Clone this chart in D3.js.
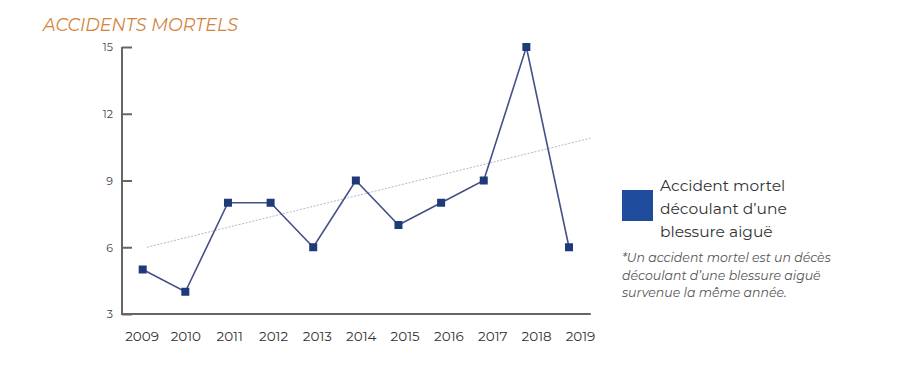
<!DOCTYPE html>
<html><head><meta charset="utf-8">
<script src="https://cdn.jsdelivr.net/npm/d3@7"></script>
<style>
html,body{margin:0;padding:0;background:#fff;}
svg{display:block;}
</style></head>
<body>
<svg id="c" width="918" height="369"></svg>
<script>
const years = [2009, 2010, 2011, 2012, 2013, 2014, 2015, 2016, 2017, 2018, 2019];
const accidents = [5, 4, 8, 8, 6, 9, 7, 8, 9, 15, 6];
const trendYears = [2009.1, 2019.5];
const trendValues = [6.0, 10.9];
const yTicks = [3, 6, 9, 12, 15];
const titleText = "ACCIDENTS MORTELS";
const legendLines = ["Accident mortel", "découlant d\u2019une", "blessure aiguë"];
const noteLines = ["*Un accident mortel est un décès", "découlant d\u2019une blessure aiguë", "survenue la même année."];

const svg = d3.select("#c");
const font = "Montserrat, 'Open Sans', 'DejaVu Sans', sans-serif";

const x = d3.scaleLinear().domain([2009, 2019]).range([142.7, 569]);
const xLab = d3.scaleLinear().domain([2009, 2019]).range([141.5, 580]);
const y = d3.scaleLinear().domain([3, 15]).range([314, 47]);

// title
svg.append("text").attr("x", 43).attr("y", 31)
  .attr("font-family", font).attr("font-style", "italic")
  .attr("font-size", 18.5).attr("fill", "#D4843A")
  .attr("textLength", 195).attr("lengthAdjust", "spacingAndGlyphs")
  .text(titleText);

// y axis
const yAxis = d3.axisRight(y).tickValues(yTicks).tickSize(10).tickFormat(d3.format("d"));
const gy = svg.append("g").attr("transform", "translate(122,0)").call(yAxis);
gy.select(".domain").attr("stroke", "#666").attr("stroke-width", 2).attr("d", `M0,${y(15)}V${y(3)}`);
gy.selectAll(".tick line").attr("stroke", "#666").attr("stroke-width", 2);
gy.selectAll(".tick text").attr("x", -9).attr("text-anchor", "end")
  .attr("font-family", font).attr("font-size", 11).attr("fill", "#444").attr("dy", "0.35em");

// x axis baseline
svg.append("line").attr("x1", 121).attr("x2", x(2019.5) + 0.5)
  .attr("y1", y(3)).attr("y2", y(3)).attr("stroke", "#666").attr("stroke-width", 2);

const xAxis = d3.axisBottom(xLab).tickValues(years).tickSize(0).tickFormat(d3.format("d"));
const gx = svg.append("g").attr("transform", `translate(0,${y(3) + 12})`).call(xAxis);
gx.select(".domain").remove();
gx.selectAll(".tick text").attr("font-family", font).attr("font-size", 13.5).attr("fill", "#333").attr("dy", "0.9em");

// trend line
svg.append("line")
  .attr("x1", x(trendYears[0])).attr("y1", y(trendValues[0]))
  .attr("x2", x(trendYears[1])).attr("y2", y(trendValues[1]))
  .attr("stroke", "#b5b8c4").attr("stroke-width", 1).attr("stroke-dasharray", "2,1.5");

// data line
const line = d3.line().x((d, i) => x(years[i])).y(d => y(d));
svg.append("path").datum(accidents).attr("d", line)
  .attr("fill", "none").attr("stroke", "#454f88").attr("stroke-width", 1.6);

svg.selectAll("rect.pt").data(accidents).enter().append("rect")
  .attr("class", "pt")
  .attr("x", (d, i) => x(years[i]) - 4).attr("y", d => y(d) - 4)
  .attr("width", 8).attr("height", 8).attr("fill", "#1f3a7a");

// legend
svg.append("rect").attr("x", 622).attr("y", 190).attr("width", 31).attr("height", 31).attr("fill", "#1f4c9c");
svg.selectAll("text.leg").data(legendLines).enter().append("text")
  .attr("class", "leg").attr("x", 660).attr("y", (d, i) => 191 + i * 23)
  .attr("font-family", font).attr("font-size", 15.5).attr("fill", "#333")
  .text(d => d);

svg.selectAll("text.note").data(noteLines).enter().append("text")
  .attr("class", "note").attr("x", 622).attr("y", (d, i) => 262 + i * 17.5)
  .attr("font-family", font).attr("font-style", "italic").attr("font-size", 12.5).attr("fill", "#555")
  .text(d => d);
</script>
</body></html>
